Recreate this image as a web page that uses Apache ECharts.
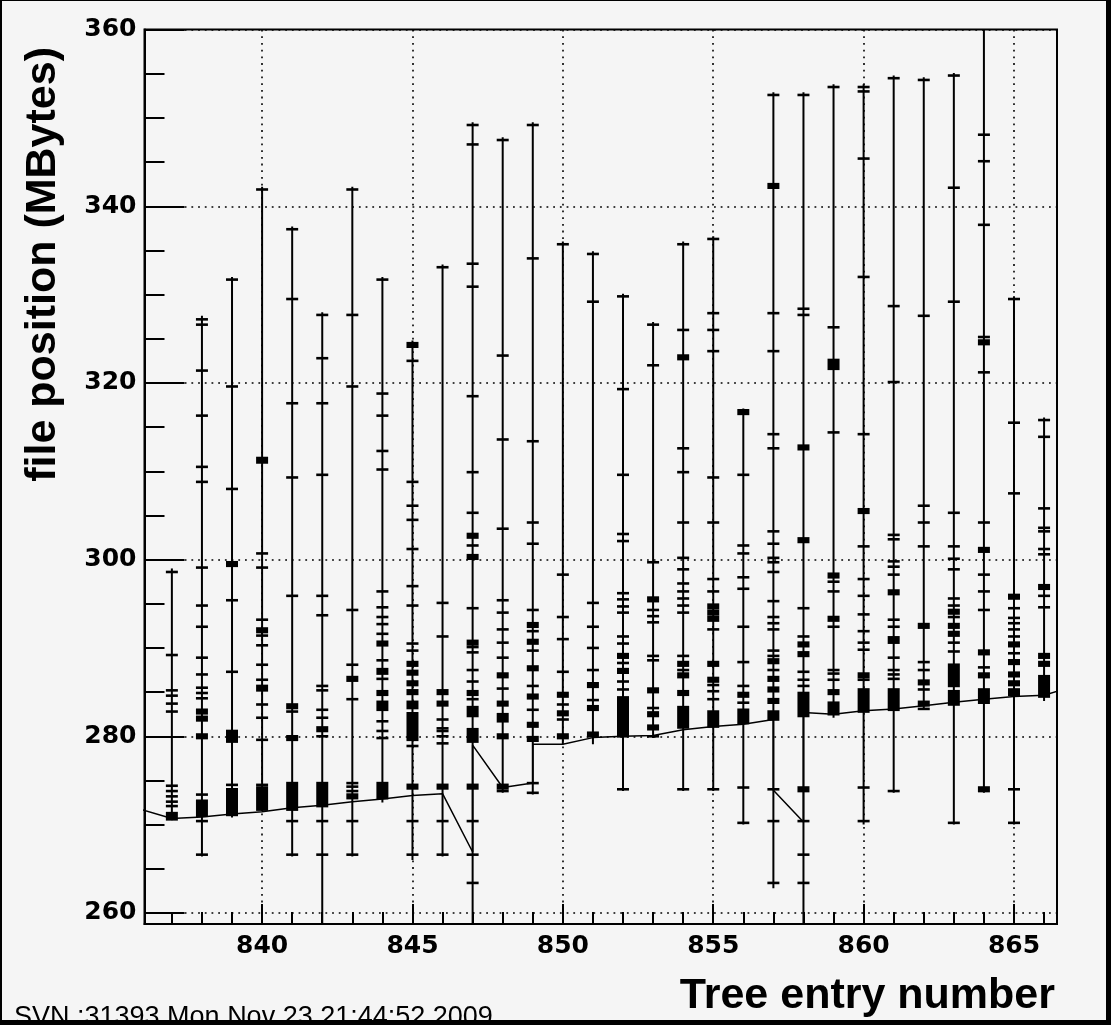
<!DOCTYPE html>
<html>
<head>
<meta charset="utf-8">
<title>file position vs tree entry</title>
<script src="https://cdn.jsdelivr.net/npm/echarts@6.0.0/dist/echarts.min.js"></script>
<style>
html, body { margin: 0; padding: 0; background: #000; }
#chart { position: absolute; left: 2px; top: 1px; width: 1104px; height: 1019px; background: #f5f5f5; }
</style>
</head>
<body>
<div id="chart"></div>
<script>
// tree entries read, and the span of file positions touched for each one
const entries = [837, 838, 839, 840, 841, 842, 843, 844, 845, 846,
  847, 848, 849, 850, 851, 852, 853, 854, 855, 856,
  857, 858, 859, 860, 861, 862, 863, 864, 865, 866]
const barLow = [270.5, 266.4, 270.8, 271.5, 266.4, 258.75, 266.4, 272.5, 266.0, 266.4,
  258.75, 273.6, 273.4, 279.1, 279.1, 273.8, 279.8, 273.8, 273.8, 270.0,
  262.8, 258.75, 282.1, 270.0, 273.6, 283.0, 270.0, 273.6, 270.0, 284.0]
const barHigh = [299.0, 327.6, 332.0, 342.2, 337.7, 328.0, 342.2, 332.0, 324.8, 333.4,
  349.5, 347.8, 349.5, 336.0, 334.9, 330.1, 326.9, 336.0, 336.6, 317.1,
  352.9, 352.9, 353.8, 353.8, 354.8, 354.6, 355.1, 360.0, 329.8, 316.1]

// individual reads (MBytes) per entry; [lo, hi] = dense cluster of reads
const reads = [
  [298.6, 289.2, 285.2, 284.6, 283.7, 282.8, 274.4, 273.8, 273.2, 272.6, 272.1, [270.6, 271.3]],
  [327.2, 326.6, 321.4, 316.3, 310.5, 308.8, 299.1, 294.8, 292.4, 288.9, 287.0, 285.5, 284.9, 284.3,
    [282.6, 283.0], [281.8, 282.2], [279.8, 280.2], 273.4, [271.0, 272.7], 270.4, 266.6],
  [331.7, 319.6, 308.0, [299.3, 299.7], 295.4, 287.3, [279.4, 280.6], 274.5, [271.1, 274.0]],
  [341.9, [311.0, 311.5], 300.7, 299.1, 293.2, [291.8, 292.2], 291.4, 290.3, 288.1, 286.4,
    [285.2, 285.7], 283.6, 282.1, 279.6, 274.5, [271.7, 274.2]],
  [337.4, 329.5, 317.7, 309.3, 295.9, [283.2, 283.6], 282.8, [279.6, 280.0], [271.7, 274.7], 270.4, 266.6],
  [327.7, 322.8, 317.7, 309.6, 295.9, 293.7, 285.7, 285.2, 283.0, 282.1, [280.6, 281.0], 280.0,
    [272.1, 274.7], 270.4, 266.6],
  [341.9, 327.7, 319.6, 294.3, 288.1, [286.3, 286.7], 284.2, 274.7, 274.3, 273.8, [273.0, 273.4], 270.4, 266.6],
  [331.7, 318.8, 316.3, 312.3, 310.2, 296.4, 294.6, 293.5, 292.7, 291.6, [290.3, 290.7], 288.6,
    [287.1, 287.6], 286.5, [284.7, 285.1], [283.0, 283.9], 281.7, 280.6, 279.8, [273.0, 274.7]],
  [[324.1, 324.5], 322.5, 308.8, 306.1, 304.5, 301.2, 297.0, 294.8, 290.5, 289.7, [288.0, 288.4],
    [287.0, 287.4], [285.8, 286.2], [284.8, 285.2], [283.2, 283.9], [279.6, 282.6], 278.9,
    [274.1, 274.5], 270.4, 266.6],
  [333.1, 295.1, 291.3, [284.8, 285.2], [283.5, 283.9], 281.9, 280.9, 280.6, 280.0, 279.2,
    [274.1, 274.5], 270.4, 266.6],
  [349.2, 347.0, 333.5, 330.9, 318.5, 309.9, 305.3, [302.5, 302.9], 301.6, [300.1, 300.5], 294.5,
    [290.4, 290.8], 290.1, 289.5, 287.5, 286.2, [284.7, 285.1], 284.2, [282.3, 283.3], [279.4, 280.8],
    [274.1, 274.5], 270.4, 266.6, 263.4],
  [347.5, 323.1, 313.6, 303.5, 295.4, 294.0, 292.1, 290.6, 288.9, [286.7, 287.1], 285.4,
    [283.5, 283.9], [281.7, 282.5], [279.8, 280.2], [274.1, 274.5], 273.8],
  [349.2, 334.1, 313.4, 304.2, 301.8, 294.3, [292.4, 292.8], 291.9, [290.5, 290.9], 289.7,
    [287.5, 287.9], 285.7, [284.3, 284.7], 283.0, [281.1, 281.5], [279.5, 279.9], 274.7, 273.6],
  [335.7, 298.3, 293.5, 291.0, 287.3, [284.5, 284.9], 283.6, [282.4, 282.8], 281.9, [279.8, 280.2]],
  [334.6, 329.2, 295.1, 292.4, 290.0, 287.5, [285.6, 286.0], 284.1, [283.0, 283.4], [280.0, 280.4]],
  [329.8, 319.3, 309.6, 302.9, 302.1, 296.2, 295.5, 294.7, 294.0, 291.3, 290.5, [288.9, 289.3], 288.3,
    [287.2, 287.6], 286.2, 285.3, [280.0, 284.4], 274.0],
  [326.6, 322.0, 299.7, [295.3, 295.7], 294.3, 293.6, 292.9, 289.1, 288.6, [285.0, 285.4], 283.2,
    [282.3, 282.7], [280.8, 281.2], 280.0],
  [335.7, 326.0, [322.7, 323.1], 312.6, 309.9, 304.2, 300.2, 298.9, 297.3, 296.4, 295.6, 294.8, 294.0,
    289.1, [288.0, 288.4], 287.5, [286.7, 287.1], [284.7, 285.1], [281.0, 283.3], 274.0],
  [336.3, 327.9, 326.0, 323.6, 309.3, 304.2, 297.8, 296.4, [294.5, 294.9], [293.8, 294.2],
    [293.1, 293.5], 292.1, [288.0, 288.4], [286.2, 286.6], 285.8, 285.1, 284.2, [281.1, 282.8], 274.0],
  [[316.5, 316.9], 309.6, 301.6, 300.7, 298.0, 296.7, 292.4, 288.4, 285.7, [284.5, 284.9], 283.8,
    [281.5, 283.0], 274.2, 270.2],
  [352.6, [342.1, 342.5], 327.9, 323.6, 314.2, 312.6, 303.2, 301.8, 300.2, 299.7, 298.6, 295.3, 293.5,
    292.8, 292.1, 289.7, 289.1, [288.3, 288.7], 287.5, [286.3, 286.7], [285.1, 285.5], [283.8, 284.2],
    [281.9, 282.8], 274.0, 270.4, 263.4],
  [352.6, 328.4, 327.7, [312.5, 312.9], [302.0, 302.4], 294.5, 291.3, [290.2, 290.6], [289.1, 289.5],
    287.3, 286.4, 285.7, [282.3, 284.9], [273.8, 274.2], 270.4, 266.6, 263.4],
  [353.5, 326.3, [321.6, 322.6], 314.4, [298.0, 298.4], 297.5, 296.4, [293.1, 293.5], 292.4, 287.5,
    287.1, 286.4, [284.8, 285.2], [282.5, 283.8]],
  [353.5, 353.0, 345.4, 332.0, 314.2, [305.3, 305.7], 301.5, 297.8, 295.9, 293.8, 291.9, 290.6, 289.8,
    [286.7, 287.1], 286.4, [282.8, 285.3], 274.2, 270.4],
  [354.5, 328.7, 320.1, 302.8, 302.3, 299.8, 299.2, 298.3, [296.1, 296.5], 293.2, 292.4, [290.6, 291.2],
    288.9, 287.5, 287.0, 286.5, [283.0, 285.3], 273.8],
  [354.3, 327.6, 306.1, 304.2, 301.5, [292.3, 292.7], 288.4, 287.5, [285.9, 286.3], 285.3,
    [283.5, 283.9], 283.1],
  [354.8, 342.1, 329.2, 305.3, 301.5, 300.1, 298.9, 295.6, 294.8, [293.9, 294.3], 293.5, [292.3, 292.7],
    [291.4, 291.8], 290.6, 289.6, [285.7, 288.1], [283.6, 285.1], 270.2],
  [348.1, 345.1, 337.9, 325.2, [324.4, 324.8], 321.2, 304.2, [300.9, 301.3], 298.3, 296.4, 294.3,
    [289.3, 289.7], 287.8, [286.7, 287.1], [283.8, 285.3], [273.8, 274.2]],
  [329.5, 315.5, 307.5, [295.6, 296.0], 294.5, 293.4, 292.8, 292.1, 291.3, [290.2, 290.6], 289.4,
    [288.2, 288.6], [286.8, 287.2], [285.8, 286.2], [284.7, 285.3], 274.0, 270.2],
  [315.8, 313.9, 305.8, 303.6, 303.2, 301.2, 300.6, [296.7, 297.1], 295.9, 294.6, [288.9, 289.3],
    [288.0, 288.4], [284.5, 286.8]]
]

// connecting line (in reading order)
const pathX = [836, 837, 838, 839, 840, 841, 842, 843, 844, 845, 846, 847, 847, 848, 849, 849,
  850, 851, 852, 853, 854, 855, 856, 857, 857, 858, 858, 859, 860, 861, 862, 863, 864, 865, 866, 867]
const pathY = [271.7, 270.7, 270.85, 271.2, 271.45, 271.9, 272.2, 272.6, 272.9, 273.3, 273.5, 266.9, 279.0,
  274.2, 274.7, 279.1, 279.1, 279.85, 280.0, 280.1, 280.75, 281.1, 281.35, 281.9, 273.9, 270.3, 282.7,
  282.5, 282.9, 283.1, 283.45, 283.85, 284.2, 284.5, 284.65, 285.7]

const xMajor = [840, 845, 850, 855, 860, 865]
const xMinor = [837, 838, 839, 841, 842, 843, 844, 846, 847, 848, 849, 851, 852, 853, 854,
  856, 857, 858, 859, 861, 862, 863, 864, 866]
const yMajor = [260, 280, 300, 320, 340, 360]
const yMinor = [265, 270, 275, 285, 290, 295, 305, 310, 315, 325, 330, 335, 345, 350, 355]

const X_MIN = 836.09, X_MAX = 866.43
const Y_MIN = 258.75, Y_MAX = 360

let chart = echarts.init(document.getElementById('chart'))

let barData = entries.map((e, i) => [e, barLow[i], barHigh[i]])
let readData = []
entries.forEach((e, i) => {
  reads[i].forEach(r => {
    if (Array.isArray(r)) readData.push([e, r[0], r[1]])
    else readData.push([e, r, r])
  })
})
let pathData = pathX.map((x, i) => [x, pathY[i]])

const dotted = { color: '#000', width: 1.6, type: [1.8, 4.9] }
const tickFont = { color: '#000', fontFamily: 'DejaVu Sans', fontWeight: 'bold', fontSize: 25 }

chart.setOption({
  animation: false,
  grid: {
    left: 142.5,
    right: 49,
    top: 28.6,
    bottom: 96,
    show: true,
    borderColor: '#000',
    borderWidth: 2,
    backgroundColor: 'transparent'
  },
  xAxis: [
    {
      type: 'value',
      min: X_MIN,
      max: X_MAX,
      position: 'bottom',
      axisLine: { show: true, onZero: false, lineStyle: { color: '#000', width: 2 } },
      axisTick: { show: true, inside: true, length: 20, customValues: xMajor, lineStyle: { color: '#000', width: 2 } },
      axisLabel: { show: true, customValues: xMajor, margin: 10, ...tickFont },
      splitLine: { show: true, lineStyle: dotted }
    },
    {
      type: 'value',
      min: X_MIN,
      max: X_MAX,
      position: 'bottom',
      axisLine: { show: false },
      axisTick: { show: true, inside: true, length: 12, customValues: xMinor, lineStyle: { color: '#000', width: 2 } },
      axisLabel: { show: false },
      splitLine: { show: false }
    }
  ],
  yAxis: [
    {
      type: 'value',
      min: Y_MIN,
      max: Y_MAX,
      position: 'left',
      axisLine: { show: true, onZero: false, lineStyle: { color: '#000', width: 2 } },
      axisTick: { show: true, inside: true, length: 40, customValues: yMajor, lineStyle: { color: '#000', width: 2 } },
      axisLabel: { show: true, customValues: yMajor, margin: 8, ...tickFont },
      splitLine: { show: true, lineStyle: dotted }
    },
    {
      type: 'value',
      min: Y_MIN,
      max: Y_MAX,
      position: 'left',
      axisLine: { show: false },
      axisTick: { show: true, inside: true, length: 20, customValues: yMinor, lineStyle: { color: '#000', width: 2 } },
      axisLabel: { show: false },
      splitLine: { show: false }
    }
  ],
  graphic: [
    {
      type: 'text',
      left: 20,
      top: 46,
      rotation: Math.PI / 2,
      style: {
        text: 'file position (MBytes)',
        fill: '#000',
        font: 'bold 43px "Liberation Sans"'
      }
    },
    {
      type: 'text',
      right: 51,
      top: 974,
      style: {
        text: 'Tree entry number',
        fill: '#000',
        font: 'bold 43px "Liberation Sans"'
      }
    },
    {
      type: 'text',
      left: 12,
      top: 1003,
      style: {
        text: 'SVN :31393 Mon Nov 23 21:44:52 2009',
        fill: '#000',
        font: '27px "Liberation Sans"'
      }
    }
  ],
  series: [
    {
      name: 'span',
      type: 'custom',
      xAxisIndex: 0,
      yAxisIndex: 0,
      data: barData,
      renderItem: function (params, api) {
        let x = api.value(0)
        let a = api.coord([x, api.value(1)])
        let b = api.coord([x, api.value(2)])
        return {
          type: 'line',
          shape: { x1: a[0], y1: a[1], x2: b[0], y2: b[1] },
          style: { stroke: '#000', lineWidth: 2 }
        }
      }
    },
    {
      name: 'reads',
      type: 'custom',
      xAxisIndex: 0,
      yAxisIndex: 0,
      data: readData,
      renderItem: function (params, api) {
        let x = api.value(0)
        let a = api.coord([x, api.value(1)])
        let b = api.coord([x, api.value(2)])
        let top = Math.min(a[1], b[1]) - 1.3
        return {
          type: 'rect',
          shape: { x: a[0] - 6, y: top, width: 12, height: Math.abs(a[1] - b[1]) + 2.6 },
          style: { fill: '#000' }
        }
      }
    },
    {
      name: 'path',
      type: 'line',
      xAxisIndex: 0,
      yAxisIndex: 0,
      data: pathData,
      symbol: 'none',
      clip: true,
      lineStyle: { color: '#000', width: 1.5 }
    }
  ]
})
</script>
</body>
</html>
